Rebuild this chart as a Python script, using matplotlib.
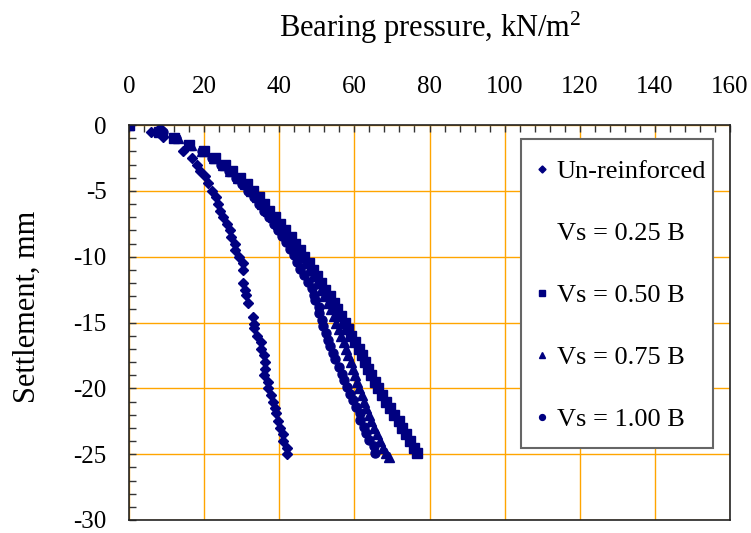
import numpy as np
import matplotlib
matplotlib.use("Agg")
import matplotlib.pyplot as plt
from matplotlib.ticker import MultipleLocator
from matplotlib.patches import Rectangle

plt.rcParams["font.family"] = ["Liberation Serif", "DejaVu Serif"]
plt.rcParams["mathtext.default"] = "regular"
plt.rcParams["axes.unicode_minus"] = False

# Bearing pressure (kN/m2) and settlement (mm)
unreinf_p = [0, 5.8, 8.3, 9.1, 14.3, 16.7, 18.0, 18.9, 20.1, 20.9, 22.2, 23.2, 23.8,
             24.1, 25.1, 26.0, 26.9, 27.2, 28.3, 28.3, 29.4, 30.3, 30.3, 30.3, 30.9,
             31.2, 31.8, 33.0, 33.2, 33.2, 34.0, 35.1, 35.1, 36.0, 36.3, 36.1, 36.0,
             36.9, 36.9, 37.8, 38.3, 38.9, 39.2, 39.8, 40.3, 41.1, 40.9, 42.1, 42.1]
unreinf_s = [0, -0.5, -0.25, -0.9, -2.0, -2.5, -3.0, -3.5, -3.9, -4.4, -5.0, -5.5, -6.0,
             -6.5, -7.0, -7.5, -8.0, -8.5, -9.0, -9.5, -10.0, -10.5, -11.0, -12.0, -12.5,
             -12.9, -13.5, -14.6, -15.1, -15.4, -16.0, -16.5, -17.0, -17.5, -18.0, -18.5, -19.0,
             -19.5, -20.0, -20.5, -21.0, -21.5, -21.9, -22.5, -23.0, -23.5, -24.0, -24.5, -25.0]

vs025_p = []
vs025_s = []

vs050_p = [0, 8, 12, 16, 20, 23, 25.5, 27.5, 29.5, 31.3, 33, 34.6, 36, 37.4, 38.8, 40.2,
           41.6, 43, 44.2, 45.4, 46.6, 47.8, 49, 50.1, 51.2, 52.3, 53.4, 54.5, 55.5, 56.5,
           57.4, 58.3, 59.2, 60.2, 61.1, 62.0, 62.9, 63.7, 64.5, 65.4, 66.4, 67.3, 68.3,
           69.4, 70.6, 71.8, 72.8, 73.8, 74.8, 75.8, 76.7]
vs050_s = [0, -0.5, -1.0, -1.5, -2.0, -2.5, -3.0, -3.5, -4.0, -4.5, -5.0, -5.5, -6.0, -6.5,
           -7.0, -7.5, -8.0, -8.5, -9.0, -9.5, -10.0, -10.5, -11.0, -11.5, -12.0, -12.5,
           -13.0, -13.5, -14.0, -14.5, -15.0, -15.5, -16.0, -16.5, -17.0, -17.5, -18.0,
           -18.5, -19.0, -19.5, -20.0, -20.5, -21.0, -21.5, -22.0, -22.5, -23.0, -23.5,
           -24.0, -24.5, -24.9]

vs075_p = [0, 9, 13, 16.5, 19.5, 22.5, 25, 27, 29, 30.8, 32.5, 34, 35.5, 36.9, 38.3, 39.6,
           41, 42.3, 43.5, 44.7, 45.8, 46.9, 48, 49, 50, 51, 52, 52.9, 53.8, 54.5, 55.2,
           55.9, 56.5, 57.2, 57.8, 58.4, 59.0, 59.6, 60.1, 60.7, 61.3, 61.9, 62.5, 63.2,
           63.9, 64.5, 65.2, 66.0, 66.7, 67.5, 68.3, 69.2]
vs075_s = [0, -0.5, -1.0, -1.5, -2.0, -2.5, -3.0, -3.5, -4.0, -4.5, -5.0, -5.5, -6.0, -6.5,
           -7.0, -7.5, -8.0, -8.5, -9.0, -9.5, -10.0, -10.5, -11.0, -11.5, -12.0, -12.5,
           -13.0, -13.5, -14.0, -14.5, -15.0, -15.5, -16.0, -16.5, -17.0, -17.5, -18.0,
           -18.5, -19.0, -19.5, -20.0, -20.5, -21.0, -21.5, -22.0, -22.5, -23.0, -23.5,
           -24.0, -24.5, -24.9, -25.2]

vs100_p = [0, 9, 12.5, 16, 19.5, 22, 24.5, 26.5, 28.5, 30.2, 31.8, 33.3, 34.7, 36.0, 37.3,
           38.5, 39.6, 40.7, 41.9, 42.9, 43.8, 44.7, 45.6, 46.5, 47.6, 48.7, 49.2, 49.6,
           50.5, 50.7, 51.4, 51.6, 52.5, 52.9, 53.6, 54.3, 54.9, 55.8, 56.7, 57.3, 58.1,
           58.9, 59.6, 60.5, 61.4, 61.6, 62.5, 63.1, 63.8, 65.2, 65.6]
vs100_s = [0, -0.5, -1.0, -1.5, -2.0, -2.5, -3.0, -3.5, -4.0, -4.5, -5.0, -5.5, -6.0, -6.5,
           -7.0, -7.5, -8.0, -8.4, -8.9, -9.4, -9.9, -10.4, -10.9, -11.4, -11.9, -12.4,
           -12.9, -13.3, -13.8, -14.3, -14.8, -15.3, -15.8, -16.3, -16.8, -17.3, -17.8,
           -18.4, -18.9, -19.4, -19.9, -20.4, -20.9, -21.4, -21.9, -22.4, -22.9, -23.4,
           -23.9, -24.4, -24.9]

navy = "#000080"

fig = plt.figure(figsize=(7.51, 5.33), dpi=100)
ax = fig.add_axes([129 / 751, 1 - 520 / 533, 601 / 751, 395 / 533])

ax.plot(unreinf_p, unreinf_s, ls="none", marker="D", ms=5.5, color=navy, label="Un-reinforced")
ax.plot(vs025_p, vs025_s, ls="none", marker="none", color=navy, label="Vs = 0.25 B")
ax.plot(vs050_p, vs050_s, ls="none", marker="s", ms=6.5, color=navy, label="Vs = 0.50 B")
ax.plot(vs075_p, vs075_s, ls="none", marker="^", ms=7.5, color=navy, label="Vs = 0.75 B")
ax.plot(vs100_p, vs100_s, ls="none", marker="o", ms=6.5, color=navy, label="Vs = 1.00 B")

ax.set_xlim(0, 160)
ax.set_ylim(-30, 0)
ax.xaxis.tick_top()
ax.xaxis.set_major_locator(MultipleLocator(20))
ax.xaxis.set_minor_locator(MultipleLocator(4))
ax.yaxis.set_major_locator(MultipleLocator(5))
ax.yaxis.set_minor_locator(MultipleLocator(1))
ax.tick_params(axis="x", which="both", direction="in", length=5, width=1,
               color="#333333", labelsize=18, pad=19.5)
ax.tick_params(axis="y", which="both", direction="in", length=5, width=1,
               color="#333333", labelsize=18, pad=16)

ax.grid(True, which="major", color="#FFA500", lw=1.0)
ax.set_axisbelow(True)
for sp in ax.spines.values():
    sp.set_color("#222222")
    sp.set_linewidth(1.2)

fig.text(430.5 / 751, 1 - 37 / 533, "Bearing pressure, kN/m$^2$", ha="center",
         va="baseline", fontsize=22)
fig.text(35 / 751, 1 - 307 / 533, "Settlement, mm", rotation=90, ha="center",
         va="baseline", rotation_mode="anchor", fontsize=22)

# legend box drawn separately so its padding matches the original
ax.add_patch(Rectangle((0.652, 0.182), 0.3205, 0.782, transform=ax.transAxes,
                       facecolor="white", edgecolor="#666666", lw=1.5, zorder=4))
leg = ax.legend(loc="upper left", bbox_to_anchor=(0.678, 0.913), fontsize=19,
                labelspacing=1.46, markerscale=0.65, handlelength=0.4,
                handletextpad=0.37, borderpad=0, borderaxespad=0, frameon=False)
leg.set_zorder(5)

fig.savefig("out.png", dpi=100)
